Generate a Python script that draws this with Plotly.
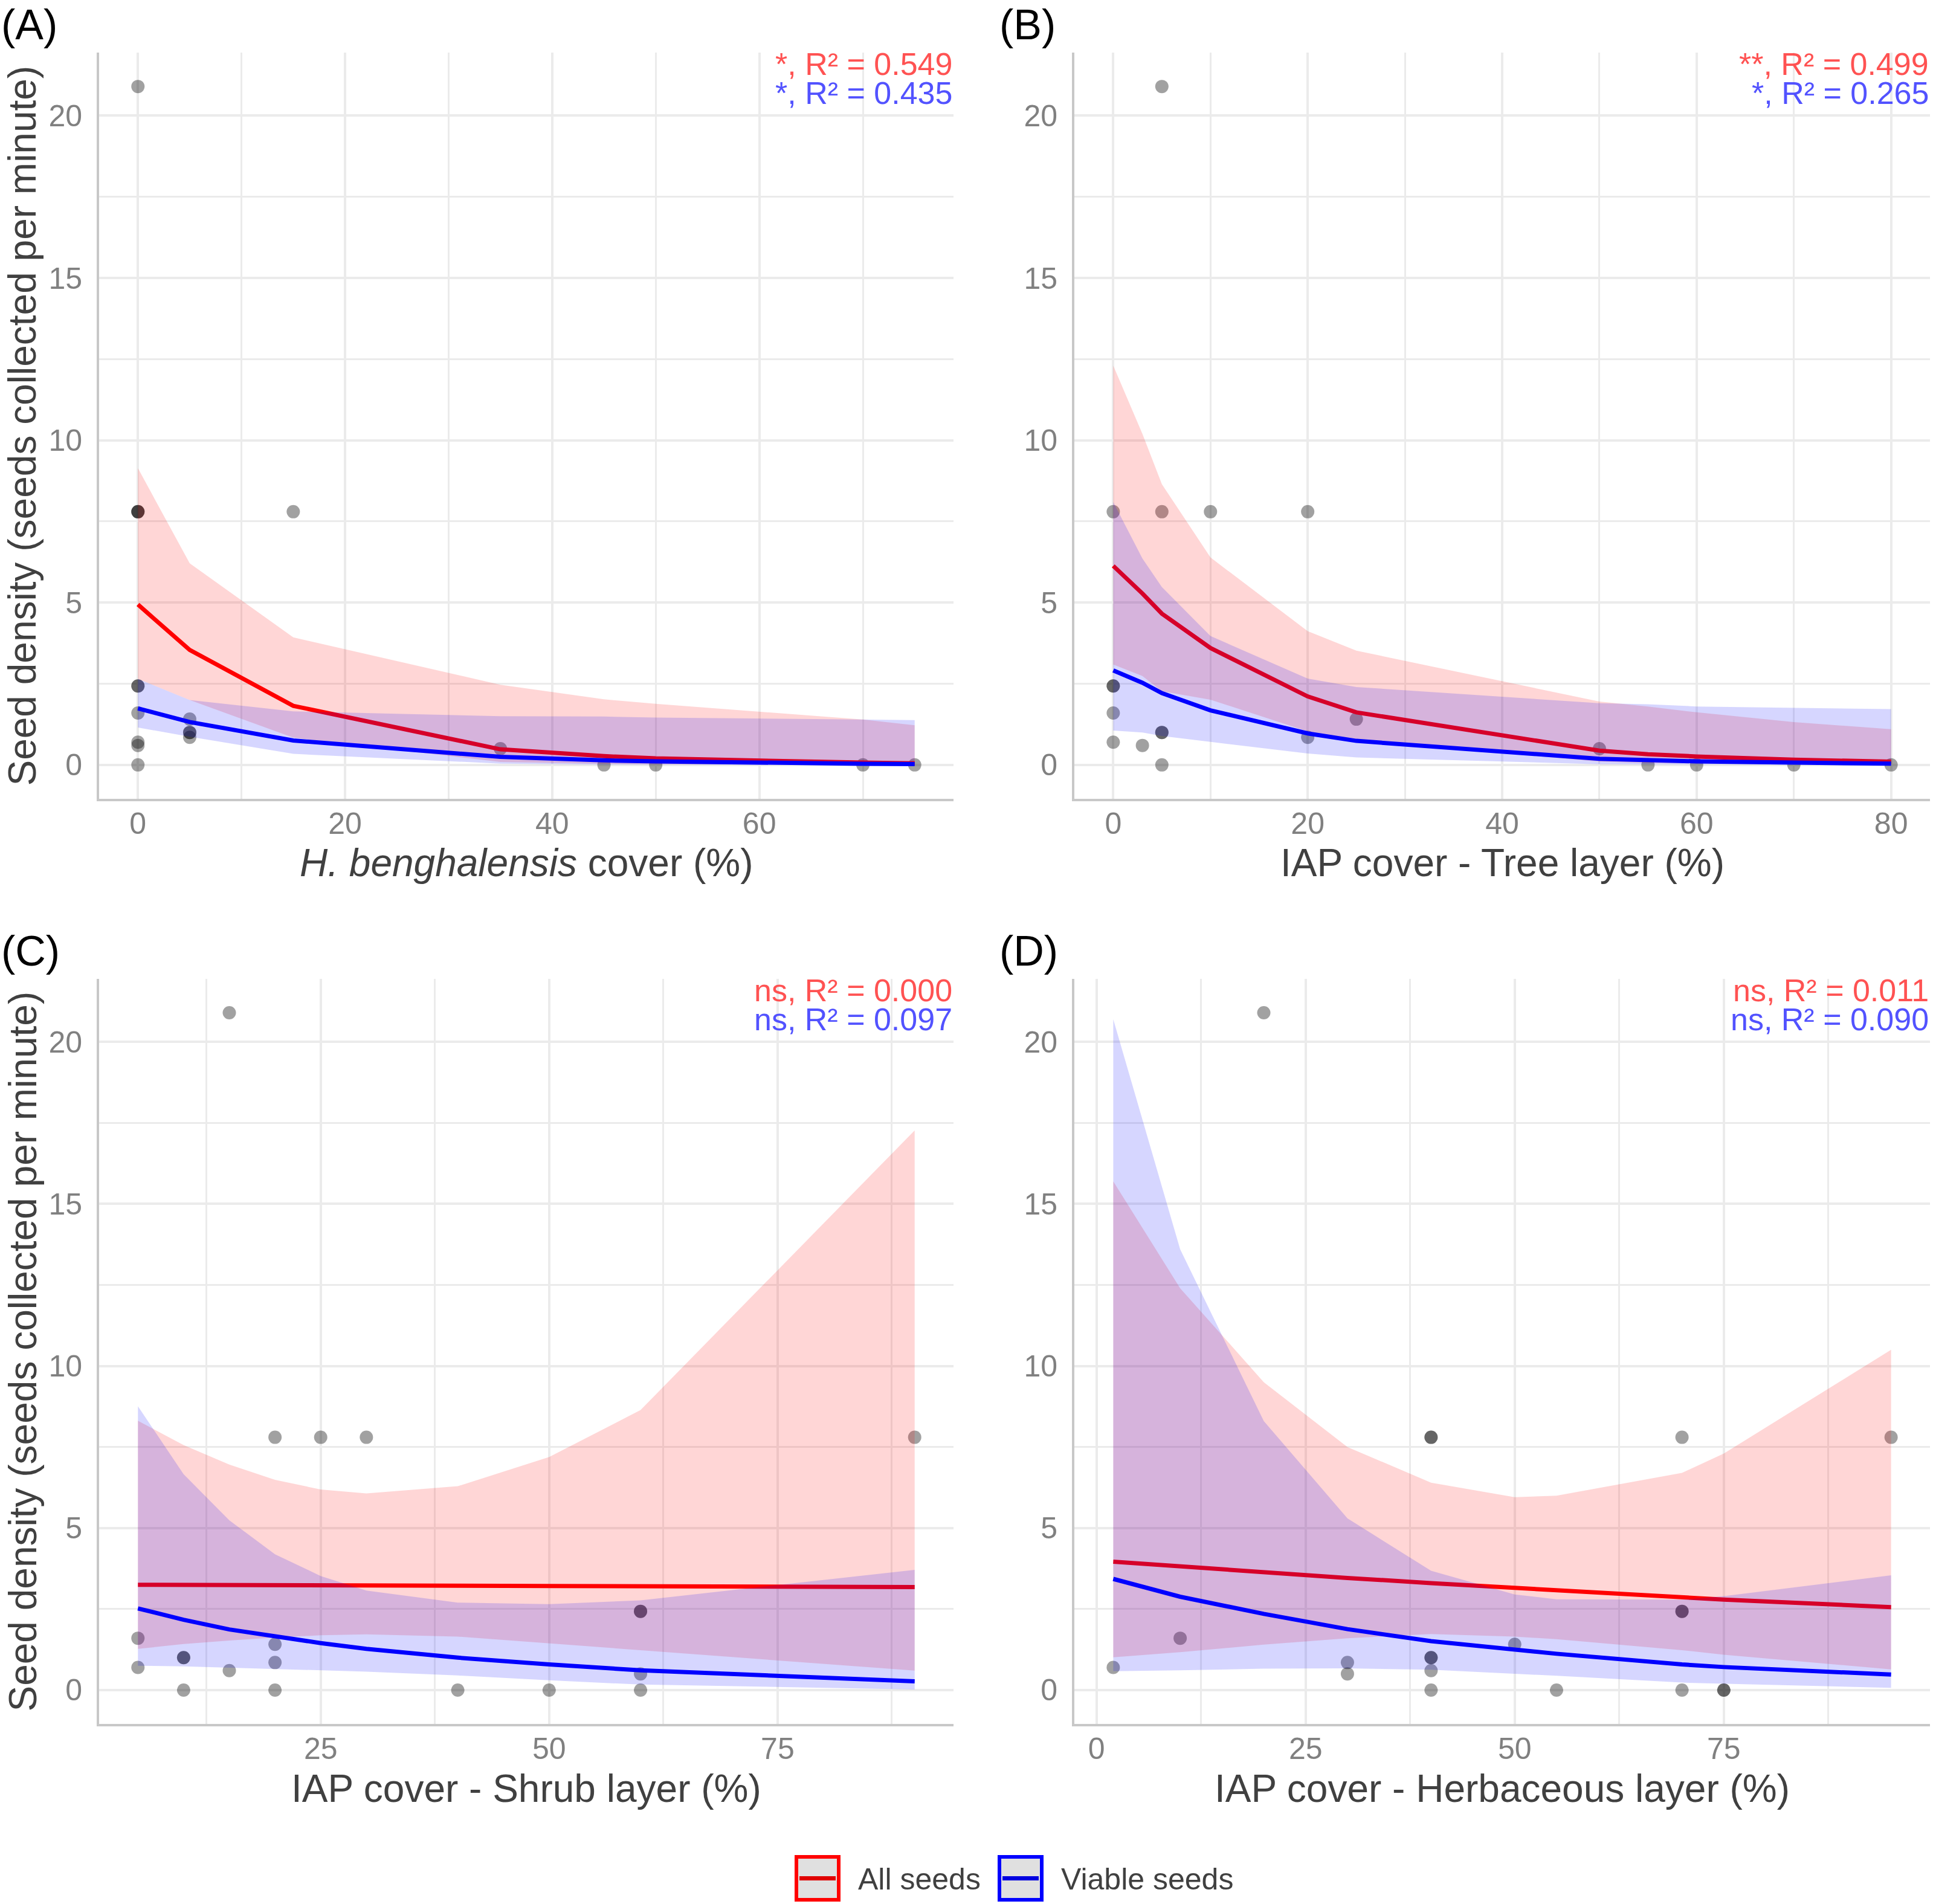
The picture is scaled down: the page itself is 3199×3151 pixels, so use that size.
import plotly.graph_objects as go

# ---------------- data ----------------
SEED_DENSITY = [20.9, 7.8, 7.8, 7.8, 7.8, 2.43, 2.43, 1.6, 1.41, 1.0, 1.0, 0.85, 0.7, 0.6, 0.5, 0, 0, 0, 0, 0]

X_A = [0, 0, 0, 0, 15, 0, 0, 0, 5, 5, 5, 5, 0, 0, 35, 0, 45, 50, 70, 75]
X_B = [5, 0, 5, 10, 20, 0, 0, 0, 25, 5, 5, 20, 0, 3, 50, 5, 55, 60, 70, 80]
X_C = [15, 20, 25, 30, 90, 60, 60, 5, 20, 10, 10, 20, 5, 15, 60, 10, 20, 40, 50, 60]
X_D = [20, 40, 40, 70, 95, 70, 70, 10, 50, 40, 40, 30, 2, 40, 30, 40, 55, 70, 75, 75]

FIT_X_A = [0, 5, 15, 35, 45, 50, 70, 75]
ALL_FIT_A = [4.94, 3.54, 1.82, 0.48, 0.27, 0.20, 0.07, 0.05]
ALL_LO_A = [2.65, 2.0, 0.84, 0.09, 0.035, 0.02, 0.004, 0.002]
ALL_HI_A = [9.14, 6.21, 3.93, 2.47, 2.02, 1.88, 1.40, 1.22]
VIA_FIT_A = [1.74, 1.32, 0.75, 0.25, 0.14, 0.11, 0.035, 0.026]
VIA_LO_A = [1.15, 0.87, 0.34, 0.04, 0.013, 0.008, 0.001, 0.0005]
VIA_HI_A = [2.65, 2.0, 1.65, 1.50, 1.49, 1.46, 1.40, 1.38]

FIT_X_B = [0, 3, 5, 10, 20, 25, 50, 55, 60, 70, 80]
ALL_FIT_B = [6.13, 5.28, 4.66, 3.60, 2.11, 1.62, 0.44, 0.33, 0.26, 0.16, 0.10]
ALL_LO_B = [3.09, 2.74, 2.27, 2.01, 1.03, 0.77, 0.10, 0.06, 0.04, 0.019, 0.009]
ALL_HI_B = [12.3, 10.2, 8.65, 6.39, 4.12, 3.52, 1.95, 1.80, 1.62, 1.32, 1.10]
VIA_FIT_B = [2.91, 2.53, 2.21, 1.68, 0.97, 0.74, 0.19, 0.14, 0.11, 0.07, 0.04]
VIA_LO_B = [1.06, 1.0, 0.89, 0.71, 0.35, 0.23, 0.02, 0.012, 0.007, 0.003, 0.001]
VIA_HI_B = [8.1, 6.36, 5.48, 3.97, 2.66, 2.40, 1.90, 1.87, 1.80, 1.76, 1.72]

FIT_X_C = [5, 10, 15, 20, 25, 30, 40, 50, 60, 90]
ALL_FIT_C = [3.25, 3.25, 3.24, 3.24, 3.23, 3.23, 3.22, 3.21, 3.20, 3.18]
ALL_LO_C = [1.27, 1.42, 1.53, 1.62, 1.69, 1.72, 1.65, 1.45, 1.23, 0.60]
ALL_HI_C = [8.31, 7.56, 6.96, 6.49, 6.19, 6.07, 6.29, 7.19, 8.64, 17.27]
VIA_FIT_C = [2.52, 2.17, 1.87, 1.65, 1.45, 1.27, 1.00, 0.79, 0.61, 0.27]
VIA_LO_C = [0.75, 0.73, 0.70, 0.66, 0.61, 0.57, 0.45, 0.30, 0.17, 0.02]
VIA_HI_C = [8.76, 6.66, 5.24, 4.19, 3.52, 3.07, 2.70, 2.65, 2.77, 3.71]

FIT_X_D = [2, 10, 20, 30, 40, 50, 55, 70, 75, 95]
ALL_FIT_D = [3.96, 3.81, 3.63, 3.46, 3.30, 3.15, 3.08, 2.86, 2.79, 2.56]
ALL_LO_D = [1.01, 1.17, 1.40, 1.60, 1.73, 1.65, 1.57, 1.23, 1.09, 0.64]
ALL_HI_D = [15.7, 12.4, 9.5, 7.5, 6.4, 5.95, 6.0, 6.7, 7.3, 10.5]
VIA_FIT_D = [3.43, 2.88, 2.35, 1.88, 1.51, 1.23, 1.12, 0.79, 0.71, 0.48]
VIA_LO_D = [0.58, 0.61, 0.66, 0.67, 0.63, 0.50, 0.44, 0.23, 0.19, 0.07]
VIA_HI_D = [20.7, 13.6, 8.3, 5.3, 3.68, 2.95, 2.80, 2.79, 2.90, 3.54]

PANEL_LABELS = ["(A)", "(B)", "(C)", "(D)"]
X_TITLES = ["<i>H. benghalensis</i> cover (%)", "IAP cover - Tree layer (%)",
            "IAP cover - Shrub layer (%)", "IAP cover - Herbaceous layer (%)"]
Y_TITLE = "Seed density (seeds collected per minute)"
STATS_ALL = ["*, R² = 0.549", "**, R² = 0.499", "ns, R² = 0.000", "ns, R² = 0.011"]
STATS_VIA = ["*, R² = 0.435", "*, R² = 0.265", "ns, R² = 0.097", "ns, R² = 0.090"]
SERIES_NAMES = ["All seeds", "Viable seeds"]

X_TICKS = [[0, 20, 40, 60], [0, 20, 40, 60, 80], [25, 50, 75], [0, 25, 50, 75]]
X_MINOR = [(10, 20), (10, 20), (12.5, 25), (12.5, 25)]
X_RANGES = [[-3.75, 78.75], [-4, 84], [0.75, 94.25], [-2.65, 99.65]]
Y_TICKS = [0, 5, 10, 15, 20]
Y_RANGE = [-1.045, 21.945]

# ---------------- layout geometry ----------------
W, H = 3199, 3151
COL_DOM = [[164 / W, 1578 / W], [1778 / W, 3194 / W]]
ROW_DOM = [[1 - 1322 / H, 1 - 87 / H], [1 - 2853 / H, 1 - 1620 / H]]

RED = "#FF0000"
BLUE = "#0000FF"
RED_FILL = "rgba(255,0,0,0.16)"
BLUE_FILL = "rgba(0,0,255,0.16)"
FONT = "Liberation Sans, Arial, sans-serif"

panels = [
    (X_A, FIT_X_A, ALL_FIT_A, ALL_LO_A, ALL_HI_A, VIA_FIT_A, VIA_LO_A, VIA_HI_A),
    (X_B, FIT_X_B, ALL_FIT_B, ALL_LO_B, ALL_HI_B, VIA_FIT_B, VIA_LO_B, VIA_HI_B),
    (X_C, FIT_X_C, ALL_FIT_C, ALL_LO_C, ALL_HI_C, VIA_FIT_C, VIA_LO_C, VIA_HI_C),
    (X_D, FIT_X_D, ALL_FIT_D, ALL_LO_D, ALL_HI_D, VIA_FIT_D, VIA_LO_D, VIA_HI_D),
]

fig = go.Figure()

for i, (px, fx, af, alo, ahi, vf, vlo, vhi) in enumerate(panels):
    xa = "x" if i == 0 else f"x{i+1}"
    ya = "y" if i == 0 else f"y{i+1}"
    fig.add_trace(go.Scatter(x=px, y=SEED_DENSITY, mode="markers", xaxis=xa, yaxis=ya,
                             marker=dict(size=22, color="rgba(0,0,0,0.37)", line=dict(width=0)),
                             showlegend=False, hoverinfo="x+y"))
    for fit, lo, hi, col, fcol, name in [(af, alo, ahi, RED, RED_FILL, SERIES_NAMES[0]),
                                         (vf, vlo, vhi, BLUE, BLUE_FILL, SERIES_NAMES[1])]:
        fig.add_trace(go.Scatter(x=list(fx) + list(fx)[::-1], y=list(hi) + list(lo)[::-1],
                                 mode="lines", fill="toself", fillcolor=fcol,
                                 line=dict(width=0, color="rgba(0,0,0,0)"),
                                 xaxis=xa, yaxis=ya, showlegend=False, hoverinfo="skip",
                                 name=name))
        fig.add_trace(go.Scatter(x=fx, y=fit, mode="lines", line=dict(color=col, width=7),
                                 xaxis=xa, yaxis=ya, showlegend=False, name=name))

axis_common = dict(showgrid=True, gridcolor="#EBEBEB", gridwidth=4, zeroline=False,
                   showline=True, linecolor="#C8C8C8", linewidth=4, ticks="",
                   tickfont=dict(size=50, color="#808080", family=FONT))

layout_axes = {}
for i in range(4):
    r, c = divmod(i, 2)
    xk = "xaxis" if i == 0 else f"xaxis{i+1}"
    yk = "yaxis" if i == 0 else f"yaxis{i+1}"
    ya = "y" if i == 0 else f"y{i+1}"
    xa = "x" if i == 0 else f"x{i+1}"
    layout_axes[xk] = dict(axis_common, domain=COL_DOM[c], range=X_RANGES[i], anchor=ya,
                           tickmode="array", tickvals=X_TICKS[i], ticklabelstandoff=-6,
                           minor=dict(tickmode="linear", tick0=X_MINOR[i][0], dtick=X_MINOR[i][1],
                                      showgrid=True, gridcolor="#EBEBEB", gridwidth=2.5, ticks=""))
    layout_axes[yk] = dict(axis_common, domain=ROW_DOM[r], range=Y_RANGE, anchor=xa,
                           tickmode="array", tickvals=Y_TICKS, ticklabelstandoff=14,
                           minor=dict(tickmode="linear", tick0=2.5, dtick=5,
                                      showgrid=True, gridcolor="#EBEBEB", gridwidth=2.5, ticks=""))

annotations = []
for i in range(4):
    r, c = divmod(i, 2)
    xa = "x" if i == 0 else f"x{i+1}"
    ya = "y" if i == 0 else f"y{i+1}"
    # panel label
    annotations.append(dict(text=PANEL_LABELS[i], xref="paper", yref="paper",
                            x=0.0 if c == 0 else 1652 / W,
                            y=1 - (0 if r == 0 else 1533) / H,
                            xanchor="left", yanchor="top", showarrow=False,
                            font=dict(size=70, color="#000000", family=FONT)))
    # stats
    annotations.append(dict(text=STATS_ALL[i], xref=f"{xa} domain", yref=f"{ya} domain",
                            x=1, y=1, xanchor="right", yanchor="top", showarrow=False,
                            yshift=12, font=dict(size=52, color="#FF5252", family=FONT)))
    annotations.append(dict(text=STATS_VIA[i], xref=f"{xa} domain", yref=f"{ya} domain",
                            x=1, y=1, xanchor="right", yanchor="top", showarrow=False,
                            yshift=-36, font=dict(size=52, color="#5252FF", family=FONT)))
    # x title
    annotations.append(dict(text=X_TITLES[i], xref=f"{xa} domain", yref="paper",
                            x=0.5, y=1 - (1428 if r == 0 else 2960) / H,
                            xanchor="center", yanchor="middle", showarrow=False,
                            font=dict(size=64, color="#404040", family=FONT)))
    if c == 0:
        annotations.append(dict(text=Y_TITLE, xref="paper", yref=f"{ya} domain",
                                x=37 / W, y=0.5, xanchor="center", yanchor="middle",
                                textangle=-90, showarrow=False,
                                font=dict(size=64, color="#404040", family=FONT)))

# legend (drawn manually to mimic ggplot keys)
shapes = []
legend_items = [(1318, 1388, RED, "#E00000", SERIES_NAMES[0], 1418),
                (1654, 1724, BLUE, "#0000E0", SERIES_NAMES[1], 1754)]
for x0, x1, bcol, lcol, name, tx in legend_items:
    shapes.append(dict(type="rect", xref="paper", yref="paper",
                       x0=x0 / W, x1=x1 / W, y0=1 - 3144 / H, y1=1 - 3073 / H,
                       fillcolor="#E0E0E0", line=dict(color=bcol, width=6), layer="above"))
    shapes.append(dict(type="line", xref="paper", yref="paper",
                       x0=(x0 + 5) / W, x1=(x1 - 5) / W, y0=1 - 3108.5 / H, y1=1 - 3108.5 / H,
                       line=dict(color=lcol, width=7), layer="above"))
    annotations.append(dict(text=name, xref="paper", yref="paper", x=tx / W, y=1 - 3110 / H,
                            xanchor="left", yanchor="middle", showarrow=False,
                            font=dict(size=50, color="#404040", family=FONT)))

fig.update_layout(width=W, height=H, margin=dict(l=0, r=0, t=0, b=0),
                  paper_bgcolor="white", plot_bgcolor="white",
                  font=dict(family=FONT), showlegend=False,
                  annotations=annotations, shapes=shapes, **layout_axes)

fig.write_html("out.html")
